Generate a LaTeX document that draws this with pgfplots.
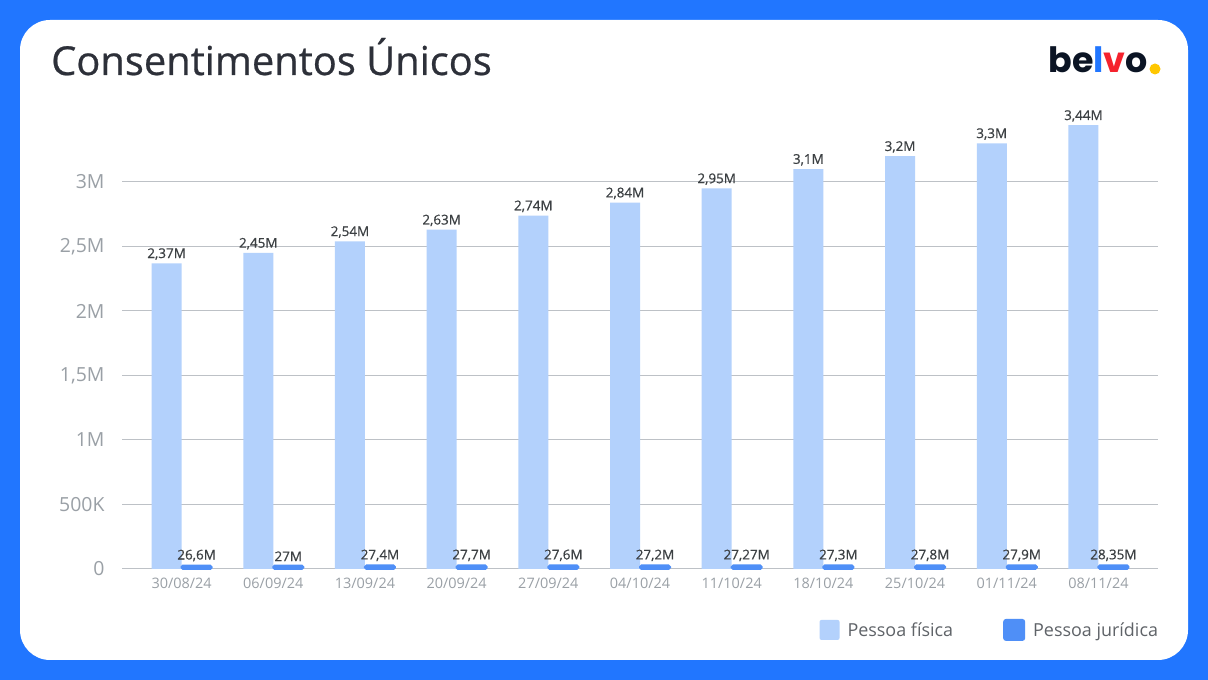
\documentclass[border=0pt]{standalone}
\usepackage{pgfplots}
\pgfplotsset{compat=1.18}
\usepackage{pgfplotstable}
\usepackage{fontspec}
\setmainfont{Open Sans}
\newfontfamily\medfont{Open Sans}[FakeBold=0.6]
\newfontfamily\logofont{Poppins}

\definecolor{frame}{HTML}{2176FF}
\definecolor{fisica}{HTML}{B3D1FC}
\definecolor{juridica}{HTML}{4F8FF7}
\definecolor{gridgray}{HTML}{BDC1C6}
\definecolor{tickgray}{HTML}{9AA0A6}
\definecolor{labeldark}{HTML}{3C4043}
\definecolor{titledark}{HTML}{2D3039}
\definecolor{legendgray}{HTML}{5F6368}
\definecolor{logored}{HTML}{F5222D}
\definecolor{logoyellow}{HTML}{FFC700}
\definecolor{logoblack}{HTML}{0B1424}

% semanas, pessoa fisica e juridica
\pgfplotstableread{
x f lf j lj
0 2370000 2,37M 26600 26,6M
1 2450000 2,45M 27000 27M
2 2540000 2,54M 27400 27,4M
3 2630000 2,63M 27700 27,7M
4 2740000 2,74M 27600 27,6M
5 2840000 2,84M 27200 27,2M
6 2950000 2,95M 27270 27,27M
7 3100000 3,1M 27300 27,3M
8 3200000 3,2M 27800 27,8M
9 3300000 3,3M 27900 27,9M
10 3440000 3,44M 28350 28,35M
}\data

\begin{document}
\begin{tikzpicture}[x=1bp,y=1bp]
\useasboundingbox (0,0) rectangle (1208,680);
\fill[frame] (0,0) rectangle (1208,680);
\fill[white, rounded corners=30bp] (20,20) rectangle (1188,660);

\node[anchor=base west, inner sep=0, text=titledark, font=\medfont\fontsize{40}{40}\selectfont] at (51,605) {Consentimentos Únicos};

\node[anchor=base east, inner sep=0, font=\logofont\bfseries\fontsize{35}{35}\selectfont] at (1148,607)
  {\textcolor{logoblack}{be}\textcolor{frame}{l}\textcolor{logored}{v}\textcolor{logoblack}{o}};
\fill[logoyellow] (1155,611) circle (5.5);

\begin{axis}[
  at={(122bp,111bp)}, anchor=south west,
  scale only axis, width=1036bp, height=451.5bp,
  xmin=-0.65, xmax=10.65, ymin=0, ymax=3500000,
  ybar=0pt, bar width=30bp,
  axis line style={draw=none},
  major tick length=0pt,
  scaled y ticks=false,
  ytick={0,500000,1000000,1500000,2000000,2500000,3000000},
  yticklabels={0,500K,1M,{1,5M},2M,{2,5M},3M},
  xtick={0,...,10},
  xticklabels={30/08/24,06/09/24,13/09/24,20/09/24,27/09/24,04/10/24,11/10/24,18/10/24,25/10/24,01/11/24,08/11/24},
  ymajorgrids,
  major grid style={color=gridgray, line width=1bp},
  yticklabel style={font=\fontsize{19.5}{19.5}\selectfont, text=tickgray, xshift=-14bp},
  xticklabel style={font=\fontsize{14.5}{14.5}\selectfont, text=tickgray, yshift=-6bp},
  clip=false,
  nodes near coords,
  point meta=explicit symbolic,
  nodes near coords style={font=\medfont\fontsize{13.5}{13.5}\selectfont, text=labeldark, anchor=south, yshift=0bp},
  legend columns=2,
  legend style={at={(1.005,-0.135)}, anchor=east, draw=none, fill=none,
    font=\fontsize{18}{18}\selectfont, text=legendgray,
    /tikz/every odd column/.append style={column sep=6bp},
    /tikz/every even column/.append style={column sep=48bp}},
]
\addplot[fill=fisica, draw=none,
  legend image code/.code={\fill[fisica, rounded corners=2bp] (0bp,-10bp) rectangle (20bp,10bp);}]
  table[x=x, y=f, meta=lf] {\data};
\addplot[fill=juridica, draw=juridica, line width=2bp, rounded corners=1.5bp,
  legend image code/.code={\fill[juridica, rounded corners=2bp] (0bp,-10bp) rectangle (20bp,10bp);}]
  table[x=x, y=j, meta=lj] {\data};
\legend{Pessoa física, Pessoa jurídica}
\end{axis}
\end{tikzpicture}
\end{document}
